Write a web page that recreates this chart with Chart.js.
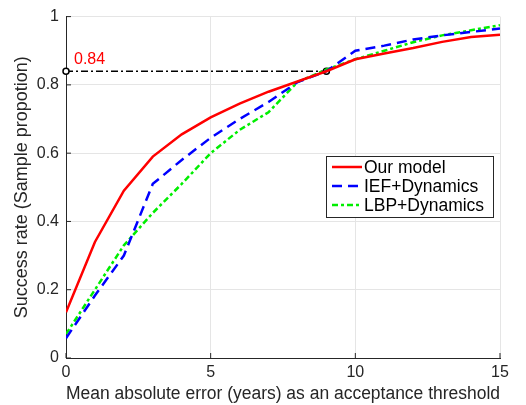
<!DOCTYPE html>
<html>
<head>
<meta charset="utf-8">
<script src="https://cdn.jsdelivr.net/npm/chart.js@4.4.1/dist/chart.umd.min.js"></script>
<style>
  html, body { margin: 0; padding: 0; background: #fff; }
  #wrap { width: 526px; height: 405px; position: relative; }
</style>
</head>
<body>
<div id="wrap"><canvas id="chart" width="526" height="405"></canvas></div>
<script>
// --- data ---
const thresholds = [0, 1, 2, 3, 4, 5, 6, 7, 8, 9, 10, 11, 12, 13, 14, 15];
const ourModel = [0.134, 0.34, 0.49, 0.59, 0.655, 0.705, 0.745, 0.78, 0.81, 0.84, 0.875, 0.892, 0.908, 0.926, 0.94, 0.947];
const iefDynamics = [0.058, 0.183, 0.30, 0.51, 0.58, 0.645, 0.70, 0.75, 0.808, 0.84, 0.90, 0.915, 0.933, 0.945, 0.955, 0.965];
const lbpDynamics = [0.07, 0.20, 0.33, 0.425, 0.51, 0.60, 0.668, 0.72, 0.808, 0.845, 0.875, 0.90, 0.925, 0.945, 0.96, 0.975];
const markX = [0, 9];
const markY = 0.84;
const xTicks = [0, 5, 10, 15];
const yTicks = [0, 0.2, 0.4, 0.6, 0.8, 1];

const FONT = "'Liberation Sans', Arial, sans-serif";
const toPts = (ys) => thresholds.map((x, i) => ({ x: x, y: ys[i] }));

// Inward ticks, MATLAB style
const innerTicks = {
    id: 'innerTicks',
    afterDatasetsDraw(chart) {
        const { ctx, chartArea: a, scales: { x, y } } = chart;
        ctx.save();
        ctx.strokeStyle = '#262626';
        ctx.lineWidth = 1;
        ctx.beginPath();
        xTicks.forEach(v => { const px = x.getPixelForValue(v); ctx.moveTo(px, a.bottom); ctx.lineTo(px, a.bottom - 5); });
        yTicks.forEach(v => { const py = y.getPixelForValue(v); ctx.moveTo(a.left, py); ctx.lineTo(a.left + 5, py); });
        ctx.stroke();
        ctx.restore();
    }
};

// Label for the 0.84 marker and the boxed legend
const extras = {
    id: 'extras',
    afterDraw(chart) {
        const { ctx, scales: { x, y } } = chart;
        ctx.save();
        ctx.fillStyle = '#ff0000';
        ctx.font = '16px ' + FONT;
        ctx.textBaseline = 'alphabetic';
        ctx.fillText(markY.toFixed(2), x.getPixelForValue(0) + 8, y.getPixelForValue(markY) - 7);

        // legend
        const bx = 326, by = 156, bw = 167, bh = 61;
        ctx.fillStyle = '#fff';
        ctx.fillRect(bx, by, bw, bh);
        ctx.strokeStyle = '#262626';
        ctx.lineWidth = 1;
        ctx.strokeRect(bx + 0.5, by + 0.5, bw, bh);
        ctx.font = '17.5px ' + FONT;
        ctx.textBaseline = 'middle';
        chart.data.datasets.slice(0, 3).forEach((ds, i) => {
            const ly = by + 11 + i * 19;
            ctx.strokeStyle = ds.borderColor;
            ctx.lineWidth = ds.borderWidth;
            ctx.setLineDash(ds.borderDash || []);
            ctx.beginPath();
            ctx.moveTo(bx + 6, ly);
            ctx.lineTo(bx + 36, ly);
            ctx.stroke();
            ctx.setLineDash([]);
            ctx.fillStyle = '#000';
            ctx.fillText(ds.label, bx + 38, ly + 1);
        });
        ctx.restore();
    }
};

new Chart(document.getElementById('chart'), {
    type: 'line',
    data: {
        datasets: [
            { label: 'Our model', data: toPts(ourModel), borderColor: '#ff0000', borderWidth: 2.5, pointRadius: 0, tension: 0 },
            { label: 'IEF+Dynamics', data: toPts(iefDynamics), borderColor: '#0000ff', borderWidth: 2.5, borderDash: [10, 6], pointRadius: 0, tension: 0 },
            { label: 'LBP+Dynamics', data: toPts(lbpDynamics), borderColor: '#00ee00', borderWidth: 2.5, borderDash: [6, 3, 3, 3], pointRadius: 0, tension: 0 },
            { label: 'marker', data: markX.map(v => ({ x: v, y: markY })), borderColor: '#000', borderWidth: 1.5, borderDash: [7, 3, 2, 3],
              pointRadius: 3, pointBorderWidth: 1.5, pointBackgroundColor: '#fff', pointBorderColor: '#000', clip: false }
        ]
    },
    options: {
        responsive: false,
        animation: false,
        layout: { padding: { top: 14, right: 26, left: 0, bottom: 0 } },
        plugins: { legend: { display: false }, tooltip: { enabled: false } },
        scales: {
            x: {
                type: 'linear', min: 0, max: 15,
                afterBuildTicks: (s) => { s.ticks = xTicks.map(v => ({ value: v })); },
                afterFit: (s) => { s.height = 47; },
                grid: { color: '#e5e5e5', drawTicks: false },
                border: { color: '#262626', width: 1 },
                ticks: { color: '#262626', font: { family: FONT, size: 16 }, padding: 5, maxRotation: 0 },
                title: { display: true, text: 'Mean absolute error (years) as an acceptance threshold', color: '#262626', font: { family: FONT, size: 18 }, padding: { top: 0, bottom: 0 } }
            },
            y: {
                min: 0, max: 1,
                afterBuildTicks: (s) => { s.ticks = yTicks.map(v => ({ value: v })); },
                afterFit: (s) => { s.width = 66; },
                grid: { color: '#e5e5e5', drawTicks: false },
                border: { color: '#262626', width: 1 },
                ticks: { color: '#262626', font: { family: FONT, size: 16 }, padding: 7, callback: (v) => String(+v.toFixed(1)) },
                title: { display: true, text: 'Success rate (Sample propotion)', color: '#262626', font: { family: FONT, size: 18 }, padding: { top: 11, bottom: 0 } }
            }
        }
    },
    plugins: [innerTicks, extras]
});
</script>
</body>
</html>
